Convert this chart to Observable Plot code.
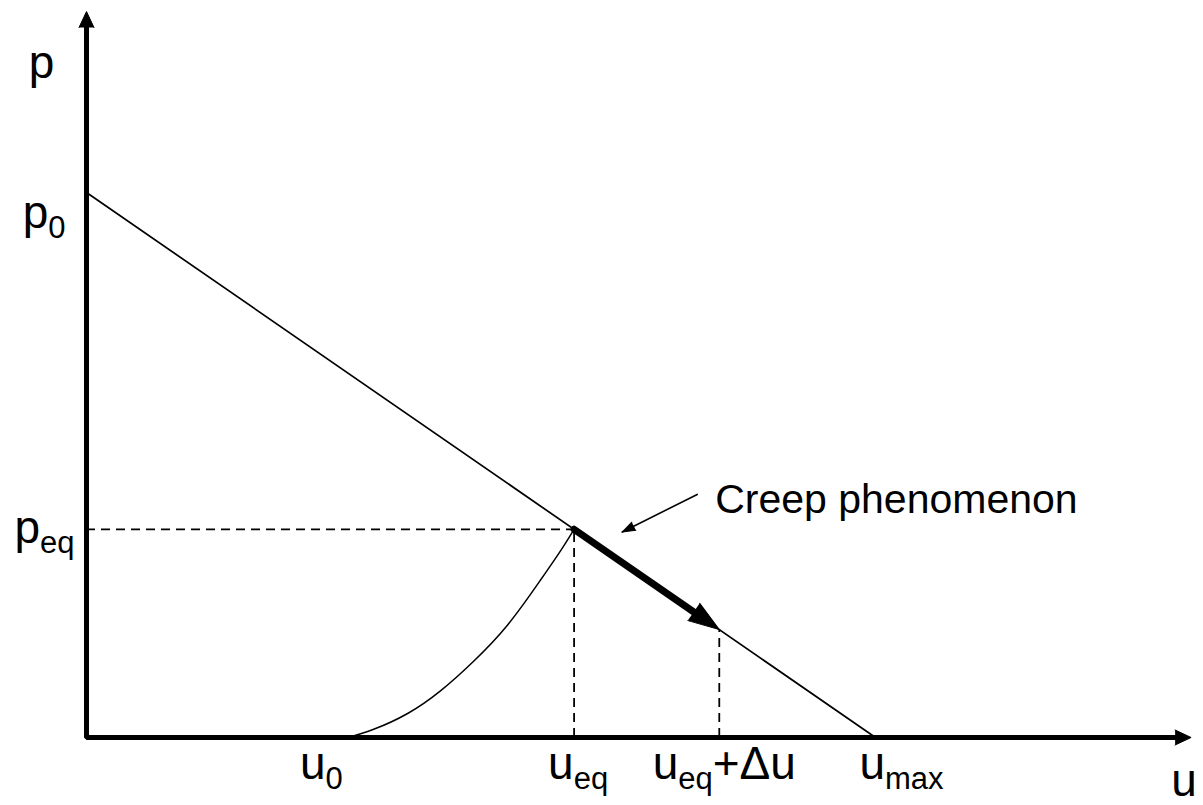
<!DOCTYPE html>
<html>
<head>
<meta charset="utf-8">
<script src="https://cdn.jsdelivr.net/npm/d3@7"></script>
<script src="https://cdn.jsdelivr.net/npm/@observablehq/plot@0.6"></script>
<style>
  html, body { margin: 0; padding: 0; background: #fff; }
  #chart svg { display: block; }
</style>
</head>
<body>
<div id="chart"></div>
<script>
// ---------------- DATA ----------------
const p0 = 10;          // intercept on the p axis
const uMax = 10;        // intercept on the u axis
const u0 = 3.32;        // start of the loading curve
const uEq = 6.18;       // equilibrium displacement
const pEq = 3.82;       // equilibrium pressure
const uEqDu = 8.02;     // ueq + Δu
const pEqDu = 1.98;     // pressure at ueq + Δu (on the line)
const uAxisEnd = 14.0;  // end of u axis (arrow tip)
const pAxisTop = 13.32; // end of p axis (arrow tip)

// loading curve from u0 up to the equilibrium point
const creepU = [3.32, 3.64, 4.07, 4.49, 4.90, 5.34, 5.75, 6.01, 6.18];
const creepP = [0, 0.15, 0.44, 0.86, 1.39, 2.07, 2.88, 3.43, 3.82];

// tick labels (main letter, subscript, trailing text)
const xTickValues = [u0, uEq, uEqDu, uMax];
const xTickMain = ["u", "u", "u", "u"];
const xTickSub  = ["0", "eq", "eq", "max"];
const xTickTail = ["", "", "+Δu", ""];

const yTickValues = [p0, pEq];
const yTickMain = ["p", "p"];
const yTickSub  = ["0", "eq"];

const xTitle = "u";
const yTitle = "p";

const annotationText = "Creep phenomenon";
const annotFrom = {u: 7.74, p: 4.46};
const annotTo   = {u: 6.79, p: 3.77};

// ---------------- LAYOUT ----------------
const W = 1203, H = 805;
const X0 = 86, Y0 = 737, pxPerU = 78.9, pxPerP = 54.5;
const xDomain = [0, uAxisEnd], xRange = [X0, X0 + uAxisEnd * pxPerU];
const yDomain = [0, pAxisTop], yRange = [Y0, Y0 - pAxisTop * pxPerP];
const sx = d3.scaleLinear(xDomain, xRange);
const sy = d3.scaleLinear(yDomain, yRange);

const FONT = '"Liberation Sans", Arial, Helvetica, sans-serif';
const MAIN = 46, SUB = 31, SHIFT = 10;

// geometry helpers (pixel-space direction, converted back to data space)
function bearing(a, b) {
  const dx = sx(b.u) - sx(a.u), dy = sy(b.p) - sy(a.p);
  return Math.atan2(dx, -dy) * 180 / Math.PI;
}
function backOff(a, b, px) {
  const ax = sx(a.u), ay = sy(a.p), bx = sx(b.u), by = sy(b.p);
  const L = Math.hypot(bx - ax, by - ay);
  return {u: sx.invert(bx - (bx - ax) * px / L), p: sy.invert(by - (by - ay) * px / L)};
}

const origin = {u: 0, p: 0};
const yTip = {u: 0, p: pAxisTop};
const xTip = {u: uAxisEnd, p: 0};
const eqPt = {u: uEq, p: pEq};
const duPt = {u: uEqDu, p: pEqDu};

const axisPath = [backOff(origin, yTip, 10), origin, backOff(origin, xTip, 10)];
const creepData = creepU.map((u, i) => ({u, p: creepP[i]}));

const subParts = new Map();
function subLabel(d, opts) {
  const full = d.main + d.sub + (d.tail || "");
  subParts.set(full, d);
  return Plot.text([d], {
    x: "u", y: "p",
    text: () => full,
    fontSize: MAIN, fontFamily: FONT, fill: "black",
    lineAnchor: "bottom",
    ...opts
  });
}

const xNudges = [-27, 4, 5, 26];
const yNudges = [[-21, 35], [-12, 14]];

const marks = [
  // dashed guide lines
  Plot.ruleY([pEq], {x1: 0, x2: uEq, y: (d) => d, stroke: "black", strokeWidth: 1.8, strokeDasharray: "9,6"}),
  Plot.ruleX([uEq], {x: (d) => d, y1: 0, y2: pEq, stroke: "black", strokeWidth: 1.8, strokeDasharray: "9,6"}),
  Plot.ruleX([uEqDu], {x: (d) => d, y1: 0, y2: pEqDu, stroke: "black", strokeWidth: 1.8, strokeDasharray: "9,6"}),
  // main straight line
  Plot.line([{u: 0, p: p0}, {u: uMax, p: 0}], {x: "u", y: "p", stroke: "black", strokeWidth: 1.7}),
  // loading curve
  Plot.line(creepData, {x: "u", y: "p", curve: "natural", stroke: "black", strokeWidth: 1.5}),
  // thick creep arrow
  Plot.line([eqPt, backOff(eqPt, duPt, 16)], {x: "u", y: "p", stroke: "black", strokeWidth: 7}),
  Plot.vector([duPt], {x: "u", y: "p", shape: "spike", anchor: "end", length: 31, r: 10.5,
    rotate: bearing(eqPt, duPt), fill: "black", stroke: "black", strokeWidth: 1}),
  // annotation arrow
  Plot.line([annotFrom, annotTo], {x: "u", y: "p", stroke: "black", strokeWidth: 1.6}),
  Plot.vector([annotTo], {x: "u", y: "p", shape: "spike", anchor: "end", length: 13, r: 4.5,
    rotate: bearing(annotFrom, annotTo), fill: "black", stroke: "black", strokeWidth: 1}),
  Plot.text([annotationText], {x: () => annotFrom.u, y: () => annotFrom.p, text: (d) => d,
    textAnchor: "start", lineAnchor: "bottom", dx: 18, dy: 19, fontSize: 41, fontFamily: FONT, fill: "black"}),
  // axes
  Plot.line(axisPath, {x: "u", y: "p", stroke: "black", strokeWidth: 5, strokeLinejoin: "miter", strokeLinecap: "butt"}),
  Plot.vector([yTip], {x: "u", y: "p", shape: "spike", anchor: "end", length: 16, r: 7.5,
    rotate: bearing(origin, yTip), fill: "black", stroke: "black", strokeWidth: 1}),
  Plot.vector([xTip], {x: "u", y: "p", shape: "spike", anchor: "end", length: 16, r: 7.5,
    rotate: bearing(origin, xTip), fill: "black", stroke: "black", strokeWidth: 1}),
  // axis titles
  Plot.text([yTitle], {x: () => 0, y: () => pAxisTop, text: (d) => d, textAnchor: "middle", lineAnchor: "bottom",
    dx: -45, dy: 66, fontSize: MAIN, fontFamily: FONT, fill: "black"}),
  Plot.text([xTitle], {x: () => uAxisEnd, y: () => 0, text: (d) => d, textAnchor: "middle", lineAnchor: "bottom",
    dx: -7, dy: 58, fontSize: MAIN, fontFamily: FONT, fill: "black"})
];

// x tick labels
xTickValues.forEach((v, i) => {
  marks.push(subLabel({u: v, p: 0, main: xTickMain[i], sub: xTickSub[i], tail: xTickTail[i]},
    {textAnchor: "middle", dx: xNudges[i], dy: 41}));
});
// y tick labels
yTickValues.forEach((v, i) => {
  marks.push(subLabel({u: 0, p: v, main: yTickMain[i], sub: yTickSub[i], tail: ""},
    {textAnchor: "end", dx: yNudges[i][0], dy: yNudges[i][1]}));
});

const chart = Plot.plot({
  width: W, height: H,
  x: {domain: xDomain, range: xRange, axis: null},
  y: {domain: yDomain, range: yRange, axis: null},
  style: {background: "white", fontFamily: FONT, overflow: "visible"},
  marks
});

// turn the plain label text into main + subscript tspans
d3.select(chart).selectAll("text").each(function() {
  const d = subParts.get(this.textContent);
  if (!d) return;
  const t = d3.select(this);
  t.text(null);
  t.append("tspan").text(d.main);
  t.append("tspan").attr("font-size", SUB).attr("dy", SHIFT).text(d.sub);
  if (d.tail) t.append("tspan").attr("font-size", MAIN).attr("dy", -SHIFT).text(d.tail);
});

document.getElementById("chart").appendChild(chart);
</script>
</body>
</html>
